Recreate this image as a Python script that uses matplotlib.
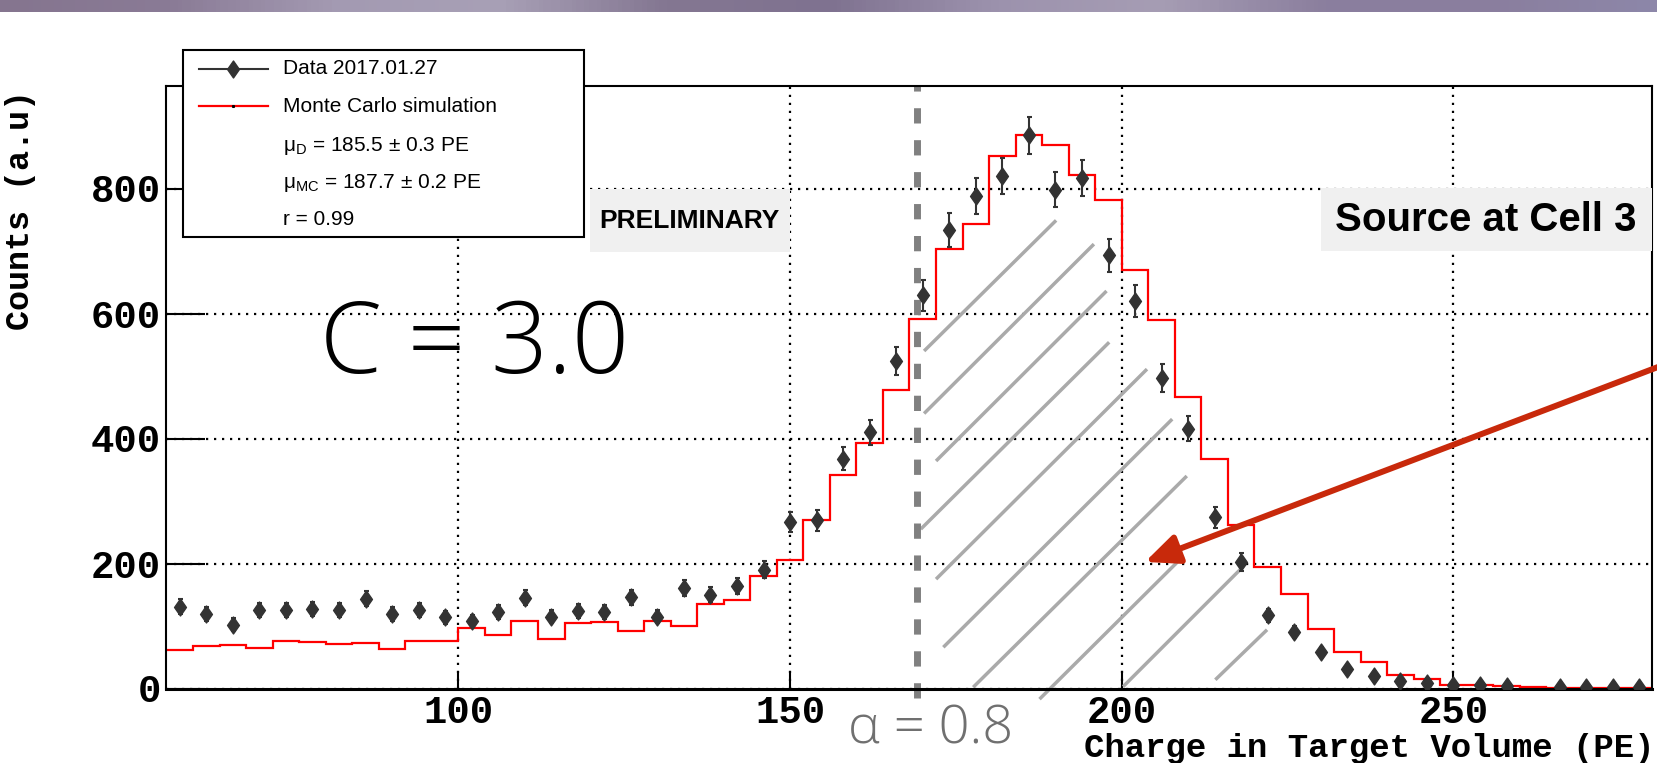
import numpy as np
import matplotlib.pyplot as plt
from matplotlib.path import Path
from matplotlib.patches import Rectangle
from matplotlib.lines import Line2D
from matplotlib.colors import LinearSegmentedColormap

plt.rcParams['mathtext.fontset'] = 'custom'
plt.rcParams['mathtext.rm'] = 'Liberation Sans'
plt.rcParams['mathtext.it'] = 'Liberation Sans:italic'
plt.rcParams['mathtext.bf'] = 'Liberation Sans:bold'

# histogram binning (PE)
bin_lo, bin_hi, bin_w = 56, 280, 4

# measured charge spectrum, counts per bin (0 = empty bin)
data_counts = [131, 119, 102, 125, 126, 127, 125, 144, 119, 125, 114, 108, 123, 145,
               115, 124, 122, 146, 115, 161, 150, 164, 190, 266, 269, 368, 410, 524,
               629, 734, 788, 820, 885, 798, 817, 693, 620, 497, 416, 274, 202, 117,
               90, 59, 32, 20, 12, 8.5, 5, 5, 4, 0, 3, 3, 3, 3]

# Monte Carlo prediction, same binning
mc_counts = [62, 68, 69, 65, 76, 75, 71, 73, 64, 76, 76, 97, 85, 108,
             79, 105, 107, 92, 108, 100, 136, 141, 180, 206, 270, 342, 393, 478,
             591, 703, 743, 852, 885, 869, 822, 781, 670, 590, 467, 367, 262, 194,
             151, 95, 59, 43, 21, 15, 5, 6, 4, 2, 1, 1, 0.5, 0.5]

# selection cut and shaded acceptance strokes (PE, counts)
cut_pe = 169.2
hatch_x0 = [170.2, 170.2, 172.0, 169.7, 172.0, 173.1, 177.6, 187.6, 200.2, 214.1]
hatch_y0 = [540, 440, 364, 255, 175, 66, 2, -17, 3, 14]
hatch_x1 = [190.1, 195.8, 197.7, 198.1, 203.8, 207.6, 209.8, 209.3, 218.1, 221.9]
hatch_y1 = [749, 711, 636, 554, 511, 431, 340, 212, 193, 94]
arrow_tip = (203.5, 202.5)

xticks = [100, 150, 200, 250]
yticks = [0, 200, 400, 600, 800]

legend_lines = ['Data 2017.01.27', 'Monte Carlo simulation',
                r'μ$_{\mathrm{D}}$ = 185.5 ± 0.3 PE',
                r'μ$_{\mathrm{MC}}$ = 187.7 ± 0.2 PE', 'r = 0.99']

banner_colors = ['#85758f', '#8a7b96', '#a39ab2', '#a8a0b6', '#847792', '#7f7290',
                 '#9c92ad', '#a69db4', '#8b7f9e', '#8a7e9e', '#8d87a9']

edges = np.arange(bin_lo, bin_hi + bin_w, bin_w)
centers = edges[:-1] + bin_w / 2
data = np.array(data_counts, dtype=float)
keep = data > 0

W, H = 1658, 763
fig = plt.figure(figsize=(W / 100, H / 100), dpi=100)


def fpx(x, y):
    return x / W, 1 - y / H


# decorative slide banner
bax = fig.add_axes([0, 1 - 12 / H, 1, 12 / H])
bax.imshow(np.linspace(0, 1, 400)[None, :], aspect='auto',
           cmap=LinearSegmentedColormap.from_list('banner', banner_colors))
bax.axis('off')

ax = fig.add_axes([166.5 / W, 1 - 688.5 / H, 1486 / W, 602.5 / H])
ax.set_xlim(bin_lo, bin_hi)
ax.set_ylim(0, 964)

ax.set_xticks(xticks)
ax.set_yticks(yticks)
ax.grid(True, color='black', lw=1.6, ls=(0, (1, 2.6)), zorder=0.5)
ax.set_axisbelow(True)

for s in ['left', 'top', 'right']:
    ax.spines[s].set_linewidth(1.5)
ax.spines['bottom'].set_linewidth(2.2)
ax.tick_params(axis='x', direction='in', length=13, width=1.5, pad=5)
ax.tick_params(axis='y', direction='in', length=28, width=1.5, pad=4)
for lab in ax.get_xticklabels() + ax.get_yticklabels():
    lab.set_fontfamily('Liberation Mono')
    lab.set_fontweight('bold')
    lab.set_fontsize(28)

# shaded region strokes
for x0, y0, x1, y1 in zip(hatch_x0, hatch_y0, hatch_x1, hatch_y1):
    ax.plot([x0, x1], [y0, y1], color='#aaaaaa', lw=2.5, solid_capstyle='butt',
            clip_on=False, zorder=1.5)

ax.axvline(cut_pe, ymin=-0.015, ymax=1.0, color='#808080', lw=5,
           ls=(0, (2.2, 2.4)), clip_on=False, zorder=2.5)

ax.stairs(mc_counts, edges, color='red', lw=1.6, baseline=None, zorder=2)

diamond = Path([(0, 1), (0.7, 0), (0, -1), (-0.7, 0), (0, 1)],
               [Path.MOVETO, Path.LINETO, Path.LINETO, Path.LINETO, Path.CLOSEPOLY])
ax.errorbar(centers[keep], data[keep], yerr=np.sqrt(data[keep]), fmt='none',
            ecolor='#333333', elinewidth=1.5, capsize=1.8, capthick=1.5, zorder=3)
ax.plot(centers[keep], data[keep], ls='none', marker=diamond, ms=12.2,
        color='#333333', zorder=4)

ax.annotate('', xy=arrow_tip, xycoords='data', xytext=fpx(1658, 367),
            textcoords='figure fraction', annotation_clip=False,
            arrowprops=dict(arrowstyle='-|>,head_length=1.7,head_width=0.75',
                            lw=4.3, color='#c8290b', shrinkA=0, shrinkB=0,
                            mutation_scale=12), zorder=5)

# axis titles
fig.text(*fpx(21, 90), 'Counts (a.u)', rotation=90, ha='center', va='top',
         family='Liberation Mono', weight='bold', size=24)
fig.text(*fpx(1655, 757), 'Charge in Target Volume (PE)', ha='right',
         va='baseline', family='Liberation Mono', weight='bold', size=24.5)

# labelled boxes
fig.add_artist(Rectangle(fpx(590, 252), 200 / W, 63 / H, transform=fig.transFigure,
                         fc='#f0f0f0', ec='none', zorder=6))
fig.text(*fpx(689, 221), 'PRELIMINARY', ha='center', va='center',
         family='Liberation Sans', weight='bold', size=19, zorder=7)
fig.add_artist(Rectangle(fpx(1321, 251), 331 / W, 63 / H, transform=fig.transFigure,
                         fc='#f0f0f0', ec='none', zorder=6))
fig.text(*fpx(1486, 220), 'Source at Cell 3', ha='center', va='center',
         family='Liberation Sans', weight='bold', size=29, zorder=7)

fig.text(*fpx(320, 373), 'C = 3.0', ha='left', va='baseline',
         family=['Open Sans', 'DejaVu Sans'], weight='light', size=72, zorder=7)
fig.text(*fpx(848, 743), 'α = 0.8', ha='left', va='baseline', color='#707070',
         family=['Open Sans', 'DejaVu Sans'], weight='light', size=39, zorder=7)

# legend box
fig.add_artist(Rectangle(fpx(183, 237), 401 / W, 187 / H, transform=fig.transFigure,
                         fc='white', ec='black', lw=1.5, zorder=10))
fig.add_artist(Line2D([199 / W, 268 / W], [1 - 69 / H] * 2, transform=fig.transFigure,
                      color='#333333', lw=1.5, zorder=11))
fig.add_artist(Line2D([233 / W], [1 - 69 / H], transform=fig.transFigure,
                      marker=diamond, ms=12.2, color='#333333', zorder=11))
fig.add_artist(Line2D([199 / W, 268 / W], [1 - 106 / H] * 2, transform=fig.transFigure,
                      color='red', lw=1.6, zorder=11))
fig.add_artist(Line2D([233 / W], [1 - 106 / H], transform=fig.transFigure,
                      marker='s', ms=1.2, color='black', zorder=12))
for txt, y in zip(legend_lines, [69, 106, 146, 183, 220]):
    fig.text(*fpx(283, y), txt, ha='left', va='center', family='Liberation Sans',
             size=15, zorder=12)

fig.savefig('out.png', dpi=100, facecolor='white')
